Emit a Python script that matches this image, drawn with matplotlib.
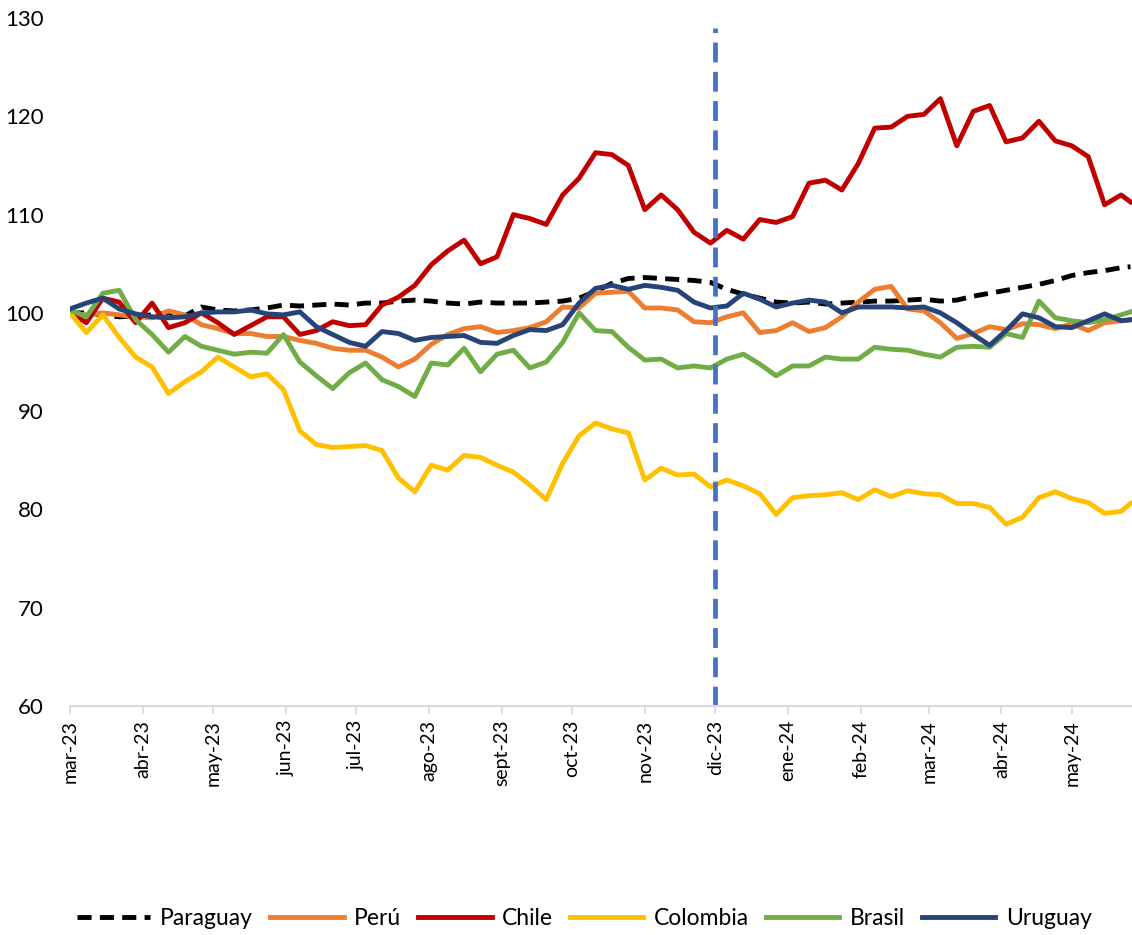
import matplotlib
matplotlib.use('Agg')
import matplotlib.pyplot as plt
import numpy as np
import pandas as pd

plt.rcParams['font.family'] = ['Lato', 'DejaVu Sans']

# weekly readings (Wednesdays from 1 mar 2023) plus the last day shown
dates = pd.date_range('2023-03-01', periods=65, freq='7D').append(pd.DatetimeIndex(['2024-05-26']))

paraguay = [100.0, 100.0, 99.8, 99.6, 99.7, 99.8, 100.0, 99.7, 100.6, 100.3,
            100.2, 100.3, 100.5, 100.8, 100.7, 100.8, 100.9, 100.8, 101.0, 101.0,
            101.2, 101.3, 101.2, 101.0, 100.9, 101.1, 101.0, 101.0, 101.0, 101.1,
            101.2, 101.5, 102.2, 103.0, 103.5, 103.6, 103.5, 103.4, 103.3, 103.1,
            102.4, 101.9, 101.5, 101.1, 101.0, 101.1, 100.9, 101.0, 101.1, 101.2,
            101.2, 101.3, 101.4, 101.2, 101.3, 101.7, 102.0, 102.3, 102.6, 102.9,
            103.3, 103.8, 104.1, 104.3, 104.6, 104.7]
peru = [100.0, 99.8, 100.0, 99.8, 99.6, 99.5, 100.2, 99.8, 98.8, 98.4,
        97.9, 97.9, 97.6, 97.6, 97.2, 96.9, 96.4, 96.2, 96.2, 95.5,
        94.5, 95.3, 96.8, 97.8, 98.4, 98.6, 98.0, 98.2, 98.5, 99.1,
        100.6, 100.5, 102.0, 102.1, 102.2, 100.5, 100.5, 100.3, 99.1, 99.0,
        99.6, 100.0, 98.0, 98.2, 99.0, 98.1, 98.5, 99.6, 101.1, 102.4,
        102.7, 100.4, 100.2, 99.0, 97.4, 97.9, 98.6, 98.3, 98.9, 98.8,
        98.4, 98.9, 98.2, 99.0, 99.2, 99.3]
chile = [100.0, 99.0, 101.5, 101.1, 99.0, 101.0, 98.5, 99.0, 100.0, 99.0,
         97.8, 98.7, 99.6, 99.6, 97.8, 98.2, 99.1, 98.7, 98.8, 100.8,
         101.6, 102.8, 104.9, 106.3, 107.4, 105.0, 105.7, 110.0, 109.6, 109.0,
         112.0, 113.7, 116.3, 116.1, 115.0, 110.5, 112.0, 110.5, 108.2, 107.1,
         108.4, 107.5, 109.5, 109.2, 109.8, 113.2, 113.5, 112.5, 115.2, 118.8,
         118.9, 120.0, 120.2, 121.8, 117.0, 120.5, 121.1, 117.4, 117.8, 119.5,
         117.5, 117.0, 115.9, 111.0, 112.0, 111.3]
colombia = [100.0, 98.0, 99.8, 97.5, 95.5, 94.5, 91.8, 93.0, 94.0, 95.5,
            94.5, 93.5, 93.8, 92.2, 88.0, 86.6, 86.3, 86.4, 86.5, 86.0,
            83.2, 81.8, 84.5, 84.0, 85.5, 85.3, 84.5, 83.8, 82.5, 81.0,
            84.7, 87.5, 88.8, 88.2, 87.8, 83.0, 84.2, 83.5, 83.6, 82.3,
            83.0, 82.4, 81.6, 79.5, 81.2, 81.4, 81.5, 81.7, 81.0, 82.0,
            81.3, 81.9, 81.6, 81.5, 80.6, 80.6, 80.2, 78.5, 79.2, 81.2,
            81.8, 81.1, 80.7, 79.6, 79.8, 80.6]
brasil = [100.3, 99.6, 102.0, 102.3, 99.3, 97.8, 96.0, 97.6, 96.6, 96.2,
          95.8, 96.0, 95.9, 97.8, 95.0, 93.6, 92.3, 93.9, 94.9, 93.2,
          92.5, 91.5, 94.9, 94.7, 96.4, 94.0, 95.8, 96.2, 94.4, 95.0,
          97.0, 100.0, 98.2, 98.1, 96.5, 95.2, 95.3, 94.4, 94.6, 94.4,
          95.3, 95.8, 94.8, 93.6, 94.6, 94.6, 95.5, 95.3, 95.3, 96.5,
          96.3, 96.2, 95.8, 95.5, 96.5, 96.6, 96.5, 97.9, 97.5, 101.2,
          99.5, 99.2, 99.0, 99.3, 99.8, 100.1]
uruguay = [100.4, 101.0, 101.5, 100.4, 99.9, 99.6, 99.5, 99.6, 100.0, 100.1,
           100.1, 100.3, 99.9, 99.8, 100.1, 98.6, 97.8, 97.0, 96.6, 98.1,
           97.9, 97.2, 97.5, 97.6, 97.7, 97.0, 96.9, 97.7, 98.3, 98.2,
           98.8, 101.0, 102.5, 102.8, 102.4, 102.8, 102.6, 102.3, 101.1, 100.5,
           100.7, 102.0, 101.4, 100.6, 101.0, 101.3, 101.1, 100.0, 100.6, 100.6,
           100.6, 100.5, 100.6, 100.0, 99.0, 97.8, 96.7, 98.2, 99.9, 99.5,
           98.6, 98.5, 99.2, 99.9, 99.2, 99.3]

month_ticks = pd.date_range('2023-03-01', '2024-05-01', freq='MS')
month_labels = ['mar-23', 'abr-23', 'may-23', 'jun-23', 'jul-23', 'ago-23', 'sept-23',
                'oct-23', 'nov-23', 'dic-23', 'ene-24', 'feb-24', 'mar-24', 'abr-24', 'may-24']
marker_date = pd.Timestamp('2023-12-01')

fig = plt.figure(figsize=(11.32, 9.35), dpi=100)
ax = fig.add_axes([0.0618, 0.2449, 0.9382, 0.7358])

lw = 3.5
ax.plot(dates, paraguay, color='black', lw=lw, dashes=(2.9, 1.7), label='Paraguay')
ax.plot(dates, peru, color='#ED7D31', lw=lw, label='Perú')
ax.plot(dates, chile, color='#C00000', lw=lw, label='Chile')
ax.plot(dates, colombia, color='#FFC000', lw=lw, label='Colombia')
ax.plot(dates, brasil, color='#70AD47', lw=lw, label='Brasil')
ax.plot(dates, uruguay, color='#264478', lw=lw, label='Uruguay')

# separation line at december 2023
ax.plot([marker_date, marker_date], [60, 129], color='#4472C4', lw=3.4, dashes=(4.2, 2.0))

ax.set_ylim(60, 130)
ax.set_xlim(pd.Timestamp('2023-03-01'), pd.Timestamp('2024-05-26 16:00'))
ax.set_yticks(np.arange(60, 131, 10))
ax.set_xticks(month_ticks)
ax.set_xticklabels(month_labels, rotation=90)

for s in ['top', 'right', 'left']:
    ax.spines[s].set_visible(False)
ax.spines['bottom'].set_color('#d9d9d9')
ax.spines['bottom'].set_linewidth(1.5)
ax.tick_params(axis='y', length=0, pad=19, labelsize=16)
ax.tick_params(axis='x', length=6, width=1.2, color='#d9d9d9', pad=4, labelsize=14)

fig.legend(loc='center', bbox_to_anchor=(0.516, 0.018), ncol=6, frameon=False,
           fontsize=16.5, handlelength=3.2, handletextpad=0.45, columnspacing=0.75)

plt.savefig('out.png', dpi=100)
